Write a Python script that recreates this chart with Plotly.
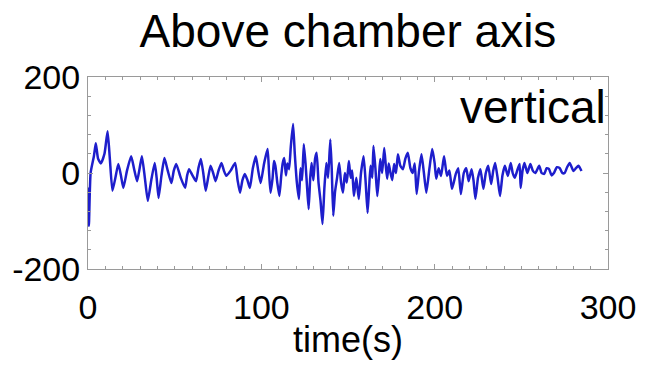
import plotly.graph_objects as go

title_text = "Above chamber axis"
label_text = "vertical"
x_title = "time(s)"
x_ticks = [0, 100, 200, 300]
x_tick_text = ["0", "100", "200", "300"]
y_ticks = [-200, 0, 200]
y_tick_text = ["-200", "0", "200"]

time_s = [0.0, 0.5, 1.5, 3.4, 4.5, 5.8, 7.4, 9.5, 11.3, 12.6, 14.1, 15.8, 17.5, 19.0, 20.4,
          22.5, 24.9, 26.5, 28.3, 29.8, 31.1, 32.8, 34.5, 36.5, 38.5, 39.6, 40.7, 42.4,
          44.1, 46.0, 48.1, 49.5, 50.9, 53.5, 56.0, 57.2, 58.3, 60.3, 62.3, 63.7, 65.1,
          66.5, 67.9, 69.3, 70.7, 72.2, 73.6, 75.3, 77.0, 78.4, 79.8, 82.3, 84.9, 86.3,
          87.7, 89.1, 90.5, 92.0, 93.4, 95.1, 96.8, 98.2, 99.6, 101.6,
          103.6, 104.4, 105.3, 106.5, 107.3, 108.1, 109.2, 110.4, 111.5, 112.3, 113.2,
          114.2, 115.0, 116.0, 117.0, 118.3, 119.3, 120.5, 121.7, 122.6, 123.5, 124.5,
          125.5, 126.4, 127.3, 128.2, 129.0, 130.0, 131.0, 131.9, 133.0, 134.2, 135.3,
          136.4, 137.5, 138.5, 139.8, 140.6, 141.5, 142.5, 143.7, 144.9, 146.0, 147.1,
          148.2, 149.3, 150.5, 151.5, 152.4, 153.4, 154.8, 156.2, 157.5, 159.0, 160.2,
          161.3, 162.2, 163.0, 164.0, 164.7, 165.8, 166.9, 167.8, 168.6, 169.7, 170.9,
          171.8, 172.6, 173.5, 174.3, 175.5, 176.6, 177.7, 178.8, 180.2, 181.7, 183.1,
          184.5, 186.0, 187.3, 188.5, 189.6, 191.0, 192.4, 193.8, 195.2, 197.0, 198.6,
          200.0, 200.9, 202.3, 203.7, 205.4, 207.1, 208.5, 210.0, 212.2, 213.6, 215.1,
          216.8, 218.2, 219.6, 221.3, 222.4, 223.5, 225.0, 226.4, 228.1, 229.5, 230.9,
          232.6, 233.8, 234.9, 236.3, 237.7, 239.1, 240.5, 242.2, 243.9, 245.0, 246.2,
          247.6, 249.0, 249.6, 250.7, 251.8, 253.5, 255.2, 256.6, 258.1, 260.3, 261.7,
          263.2, 264.6, 266.0, 267.4, 268.8, 270.5, 272.2, 273.6, 275.0, 276.4, 277.9,
          280.1, 281.5, 283.0, 284.7]
vertical = [-30, -110, 0, 35, 62, 30, 20, 40, 87, 30, -37, -10, 19, -5, -31,
            5, 35, 10, -17, 10, 35, -10, -58, -15, 21, -10, -52, -5,
            31, 5, -21, 5, 19, -10, -31, -5, 8, -5, -17, 10, 29,
            0, -37, -10, 15, 0, -17, 5, 21, 5, -6, 5, 21, -15,
            -41, -15, -2, -15, -31, 10, 35, 5, -21, 20,
            50, 5, -41, -10, 25, 15, -20, -48, -5, 20, 31,
            -5, 20, 8, 55, 102, 40, -20, -54, 10, -15, 60,
            20, -30, -75, -10, 21, -15, 30, 42, -20, -60, -106,
            -30, 21, -10, 70, 10, -89, -40, -10, 21, -20, -41,
            0, -20, 25, -10, 5, -48, -10, -54, 0, 35, -20,
            -83, -30, 15, -10, 56, 10, -48, -10, 29, 0, 52,
            15, -12, 20, 4, -15, 19, 0, 39, 15, 8, 30,
            42, 10, 0, 20, -44, 5, 39, 0, -41, 10, 50,
            20, -12, 10, -6, 35, -6, 5, -33, -2, 10, -44,
            0, 10, -17, 8, -15, -54, -10, 8, -33, 0, 15,
            -23, 5, 21, -10, -48, -5, 15, -6, 21, 0, -10,
            5, 19, -31, 5, 21, 0, 19, 5, 0, 15, 0,
            -2, 10, 8, -5, 0, 12, 10, 0, 0, 12, 21,
            4, 10, 15, 4]

fig = go.Figure()
fig.add_trace(go.Scatter(x=time_s, y=vertical, mode="lines",
                         line=dict(color="#1e1ecc", width=2.5, shape="spline", smoothing=0.5),
                         showlegend=False))

fig.add_annotation(text=label_text, x=1, y=1, xref="paper", yref="paper",
                   xanchor="right", yanchor="top", xshift=0, yshift=-2,
                   showarrow=False, font=dict(family="Liberation Sans", size=46, color="black"))

axis_common = dict(showline=True, linecolor="#9a9a9a", linewidth=1, mirror="allticks",
                   ticks="inside", tickcolor="#9a9a9a", showgrid=False, zeroline=False,
                   tickfont=dict(family="Liberation Sans", size=34, color="black"))

fig.update_layout(
    width=648, height=365,
    margin=dict(l=87, r=31, t=77, b=96),
    paper_bgcolor="white", plot_bgcolor="white",
    title=dict(text=title_text, x=0.5, xref="paper", xanchor="center",
               y=0.915, yref="container", yanchor="middle",
               font=dict(family="Liberation Sans", size=46, color="black")),
    xaxis=dict(range=[0, 300], tickvals=x_ticks, ticktext=x_tick_text, ticklen=5,
               minor=dict(dtick=10, ticks="inside", ticklen=3, tickcolor="#9a9a9a"),
               title=dict(text=x_title, font=dict(family="Liberation Sans", size=36, color="black"), standoff=2),
               ticklabelstandoff=8, **axis_common),
    yaxis=dict(range=[-200, 200], tickvals=y_ticks, ticktext=y_tick_text, ticklen=5,
               minor=dict(dtick=40, ticks="inside", ticklen=3, tickcolor="#9a9a9a"),
               ticklabelstandoff=0, **axis_common),
)

fig.write_html("out.html")
